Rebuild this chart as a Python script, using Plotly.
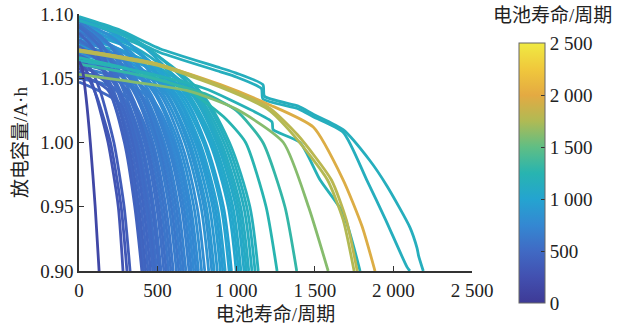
import plotly.graph_objects as go
from plotly.colors import sample_colorscale

# ---- tick labels -----------------------------------------------------------
x_ticks = [0, 500, 1000, 1500, 2000, 2500]
x_tick_text = ["0", "500", "1 000", "1 500", "2 000", "2 500"]
y_ticks = [0.90, 0.95, 1.00, 1.05, 1.10]
y_tick_text = ["0.90", "0.95", "1.00", "1.05", "1.10"]
cb_ticks = [0, 500, 1000, 1500, 2000, 2500]
cb_tick_text = ["0", "500", "1 000", "1 500", "2 000", "2 500"]

# ---- bulk of cells: knots along each fade curve ----------------------------
# end of life (cycle at 0.90 A·h)
life = [400, 412, 425, 440, 455, 470, 482, 495, 510, 522, 540, 555, 570, 585, 600,
        620, 635, 650, 665, 680, 700, 715, 730, 745, 760, 780, 800, 825, 845, 860,
        880, 900, 915, 930, 955, 970, 1000, 1015, 1030, 1050, 1065, 1080, 1100, 1120, 1140]
# capacity at cycle 0
q_start = [1.052, 1.085, 1.060, 1.075, 1.047, 1.090, 1.068, 1.080, 1.055, 1.092, 1.072, 1.062, 1.086, 1.050, 1.078,
           1.094, 1.066, 1.083, 1.058, 1.090, 1.074, 1.064, 1.088, 1.054, 1.080, 1.095, 1.070, 1.085, 1.062, 1.090,
           1.076, 1.096, 1.068, 1.082, 1.092, 1.060, 1.086, 1.074, 1.097, 1.065, 1.088, 1.078, 1.094, 1.070, 1.090]
# early knot
c_a = [95, 100, 105, 110, 130, 122, 126, 130, 140, 142, 150, 155, 160, 170, 173,
       180, 186, 192, 200, 204, 212, 218, 224, 230, 236, 243, 251, 261, 268, 275,
       282, 290, 296, 302, 312, 318, 330, 336, 342, 349, 355, 361, 369, 376, 384]
q_a = [1.048, 1.072, 1.054, 1.065, 1.040, 1.076, 1.060, 1.068, 1.050, 1.077, 1.063, 1.056, 1.073, 1.045, 1.067,
       1.078, 1.058, 1.070, 1.052, 1.075, 1.064, 1.057, 1.074, 1.049, 1.068, 1.079, 1.061, 1.072, 1.055, 1.076,
       1.065, 1.080, 1.060, 1.070, 1.077, 1.054, 1.073, 1.064, 1.081, 1.058, 1.074, 1.067, 1.079, 1.062, 1.076]
# start of knee
c_mid = [189, 199, 209, 221, 260, 244, 253, 263, 290, 285, 299, 310, 322, 350, 346,
         361, 373, 385, 410, 408, 424, 435, 447, 470, 471, 486, 502, 522, 537, 549,
         565, 581, 592, 604, 624, 636, 660, 672, 683, 698, 710, 722, 738, 752, 768]
q_mid = [1.040, 1.040, 1.040, 1.040, 1.030, 1.040, 1.040, 1.040, 1.033, 1.040, 1.040, 1.040, 1.040, 1.030, 1.040,
         1.040, 1.040, 1.040, 1.035, 1.040, 1.040, 1.040, 1.040, 1.033, 1.040, 1.040, 1.040, 1.040, 1.040, 1.040,
         1.040, 1.040, 1.040, 1.040, 1.040, 1.040, 1.040, 1.040, 1.040, 1.040, 1.040, 1.040, 1.040, 1.040, 1.040]
# cycle at 1.00 A·h and at 0.95 A·h
c_100 = [289, 300, 312, 326, 340, 352, 363, 375, 389, 400, 416, 429, 443, 456, 470,
         488, 501, 515, 528, 542, 560, 573, 587, 600, 614, 632, 650, 673, 691, 705,
         723, 741, 754, 768, 791, 804, 832, 845, 859, 876, 890, 904, 922, 940, 957]
c_095 = [355, 367, 380, 395, 410, 424, 436, 449, 464, 476, 494, 508, 523, 538, 553,
         572, 587, 602, 617, 632, 652, 667, 682, 697, 711, 731, 751, 776, 795, 810,
         830, 850, 865, 880, 904, 919, 949, 964, 979, 998, 1013, 1028, 1048, 1067, 1087]
# colour value (battery life)
life_colour = [420, 460, 440, 490, 470, 520, 500, 540, 520, 560, 550, 540, 600, 580, 620,
               650, 620, 670, 650, 700, 700, 720, 760, 740, 790, 810, 800, 850, 850, 890,
               890, 930, 920, 960, 990, 970, 1030, 1040, 1070, 1070, 1100, 1110, 1130, 1140, 1170]

# ---- individually traced cells ---------------------------------------------
e1_cyc = [0, 20, 45, 72, 103, 128]
e1_cap = [1.063, 1.058, 1.035, 1.00, 0.95, 0.90]
e2_cyc = [0, 50, 100, 185, 250, 280]
e2_cap = [1.062, 1.055, 1.040, 1.00, 0.95, 0.90]
e3_cyc = [0, 60, 115, 200, 268, 305]
e3_cap = [1.058, 1.050, 1.035, 1.00, 0.95, 0.90]
e4_cyc = [0, 70, 135, 222, 287, 325]
e4_cap = [1.066, 1.058, 1.040, 1.00, 0.95, 0.90]

t1_cyc = [0, 350, 700, 920, 1060, 1190, 1260]
t1_cap = [1.066, 1.056, 1.040, 1.020, 1.00, 0.95, 0.90]
t2_cyc = [0, 400, 800, 1000, 1170, 1310, 1385]
t2_cap = [1.061, 1.052, 1.038, 1.025, 1.00, 0.95, 0.90]
g1_cyc = [0, 350, 700, 1000, 1300, 1460, 1585]
g1_cap = [1.053, 1.047, 1.040, 1.026, 1.00, 0.95, 0.90]
t3_cyc = [0, 400, 800, 1100, 1228, 1235, 1406, 1533, 1680, 1788]
t3_cap = [1.064, 1.055, 1.042, 1.025, 1.016, 1.010, 1.000, 0.971, 0.945, 0.90]
o1_cyc = [0, 500, 900, 1200, 1370, 1580, 1680, 1750]
o1_cap = [1.071, 1.060, 1.043, 1.026, 1.005, 0.971, 0.940, 0.90]
o2_cyc = [0, 500, 900, 1210, 1390, 1605, 1700, 1770]
o2_cap = [1.072, 1.061, 1.044, 1.027, 1.006, 0.971, 0.940, 0.90]
or_cyc = [0, 500, 900, 1200, 1490, 1680, 1800, 1883]
or_cap = [1.072, 1.061, 1.045, 1.030, 1.012, 0.971, 0.935, 0.90]
la_cyc = [0, 250, 515, 900, 1000, 1170, 1180, 1400, 1490, 1680, 1850, 1960, 2105, 2150, 2160, 2190]
la_cap = [1.098, 1.088, 1.073, 1.058, 1.054, 1.045, 1.036, 1.028, 1.022, 1.010, 0.986, 0.966, 0.934, 0.918, 0.912, 0.90]
lb_cyc = [0, 250, 515, 900, 1000, 1160, 1170, 1400, 1490, 1680, 1830, 1950, 2087, 2105]
lb_cap = [1.095, 1.085, 1.070, 1.055, 1.051, 1.042, 1.034, 1.026, 1.020, 1.008, 0.971, 0.940, 0.903, 0.90]

single_cells = [
    (e2_cyc, e2_cap, 290), (e3_cyc, e3_cap, 320), (e4_cyc, e4_cap, 360),
    (t1_cyc, t1_cap, 1250), (t2_cyc, t2_cap, 1300), (g1_cyc, g1_cap, 1620),
    (t3_cyc, t3_cap, 1200), (la_cyc, la_cap, 1150), (lb_cyc, lb_cap, 1150),
    (or_cyc, or_cap, 1960), (o1_cyc, o1_cap, 1760), (o2_cyc, o2_cap, 1800),
    (e1_cyc, e1_cap, 150),
]

# parula-style colour map (softened)
PARULA = [
    [0.0, "rgb(62,58,150)"], [0.1, "rgb(66,80,176)"], [0.2, "rgb(64,106,196)"],
    [0.3, "rgb(52,136,210)"], [0.4, "rgb(36,164,208)"], [0.5, "rgb(40,180,176)"],
    [0.6, "rgb(96,190,132)"], [0.7, "rgb(176,186,84)"], [0.8, "rgb(228,170,66)"],
    [0.9, "rgb(240,200,60)"], [1.0, "rgb(240,234,66)"],
]
CMIN, CMAX = 0, 2500


def colour_of(v):
    return sample_colorscale(PARULA, [(v - CMIN) / (CMAX - CMIN)])[0]


LINE_W = 2.8
fig = go.Figure()

# longer-lived cells first so the short-lived ones sit on top
for i in sorted(range(len(life)), key=lambda k: -life[k]):
    xs = [0, c_a[i], c_mid[i], c_100[i], c_095[i], life[i]]
    ys = [q_start[i], q_a[i], q_mid[i], 1.00, 0.95, 0.90]
    fig.add_trace(go.Scatter(
        x=xs, y=ys, mode="lines",
        line=dict(color=colour_of(life_colour[i]), width=LINE_W, shape="spline", smoothing=0.8),
        hoverinfo="skip", showlegend=False))

for xs, ys, v in single_cells:
    fig.add_trace(go.Scatter(
        x=xs, y=ys, mode="lines",
        line=dict(color=colour_of(v), width=LINE_W, shape="spline", smoothing=0.6),
        hoverinfo="skip", showlegend=False))

SERIF = "Liberation Serif, Noto Sans CJK SC, serif"
TXT = "#222222"

# colour bar carrier
fig.add_trace(go.Scatter(
    x=[None], y=[None], mode="markers", hoverinfo="skip", showlegend=False,
    marker=dict(color=[CMIN], colorscale=PARULA, cmin=CMIN, cmax=CMAX, showscale=True,
                colorbar=dict(
                    thickness=26, thicknessmode="pixels",
                    len=260, lenmode="pixels",
                    x=1.1196, xanchor="left", xpad=0,
                    y=0.381, yanchor="middle", ypad=0,
                    outlinewidth=1, outlinecolor="#666666",
                    tickvals=cb_ticks, ticktext=cb_tick_text,
                    ticks="inside", ticklen=4, tickcolor="#333333",
                    tickfont=dict(family=SERIF, size=19, color=TXT),
                ))))

fig.add_annotation(text="电池寿命/周期", xref="paper", yref="paper",
                   x=1.206, y=0.995, xanchor="center", yanchor="middle",
                   showarrow=False, font=dict(family=SERIF, size=19, color=TXT))

fig.update_layout(
    width=627, height=328,
    margin=dict(l=79, r=155, t=14, b=57, autoexpand=False),
    paper_bgcolor="white", plot_bgcolor="white",
    xaxis=dict(range=[0, 2500], tickvals=x_ticks, ticktext=x_tick_text,
               ticks="inside", ticklen=5, tickcolor="#333333",
               showline=True, linecolor="#333333", linewidth=1.5,
               showgrid=False, zeroline=False, mirror=False, automargin=False,
               ticklabelstandoff=1,
               tickfont=dict(family=SERIF, size=19, color=TXT),
               title=dict(text="电池寿命/周期", standoff=8,
                          font=dict(family=SERIF, size=19, color=TXT))),
    yaxis=dict(range=[0.90, 1.10], tickvals=y_ticks, ticktext=y_tick_text,
               ticks="inside", ticklen=5, tickcolor="#333333",
               showline=True, linecolor="#333333", linewidth=1.5,
               showgrid=False, zeroline=False, mirror=False, automargin=False,
               tickfont=dict(family=SERIF, size=19, color=TXT),
               title=dict(text="放电容量/A·h", standoff=8,
                          font=dict(family=SERIF, size=19, color=TXT))),
)

fig.write_html("out.html")
